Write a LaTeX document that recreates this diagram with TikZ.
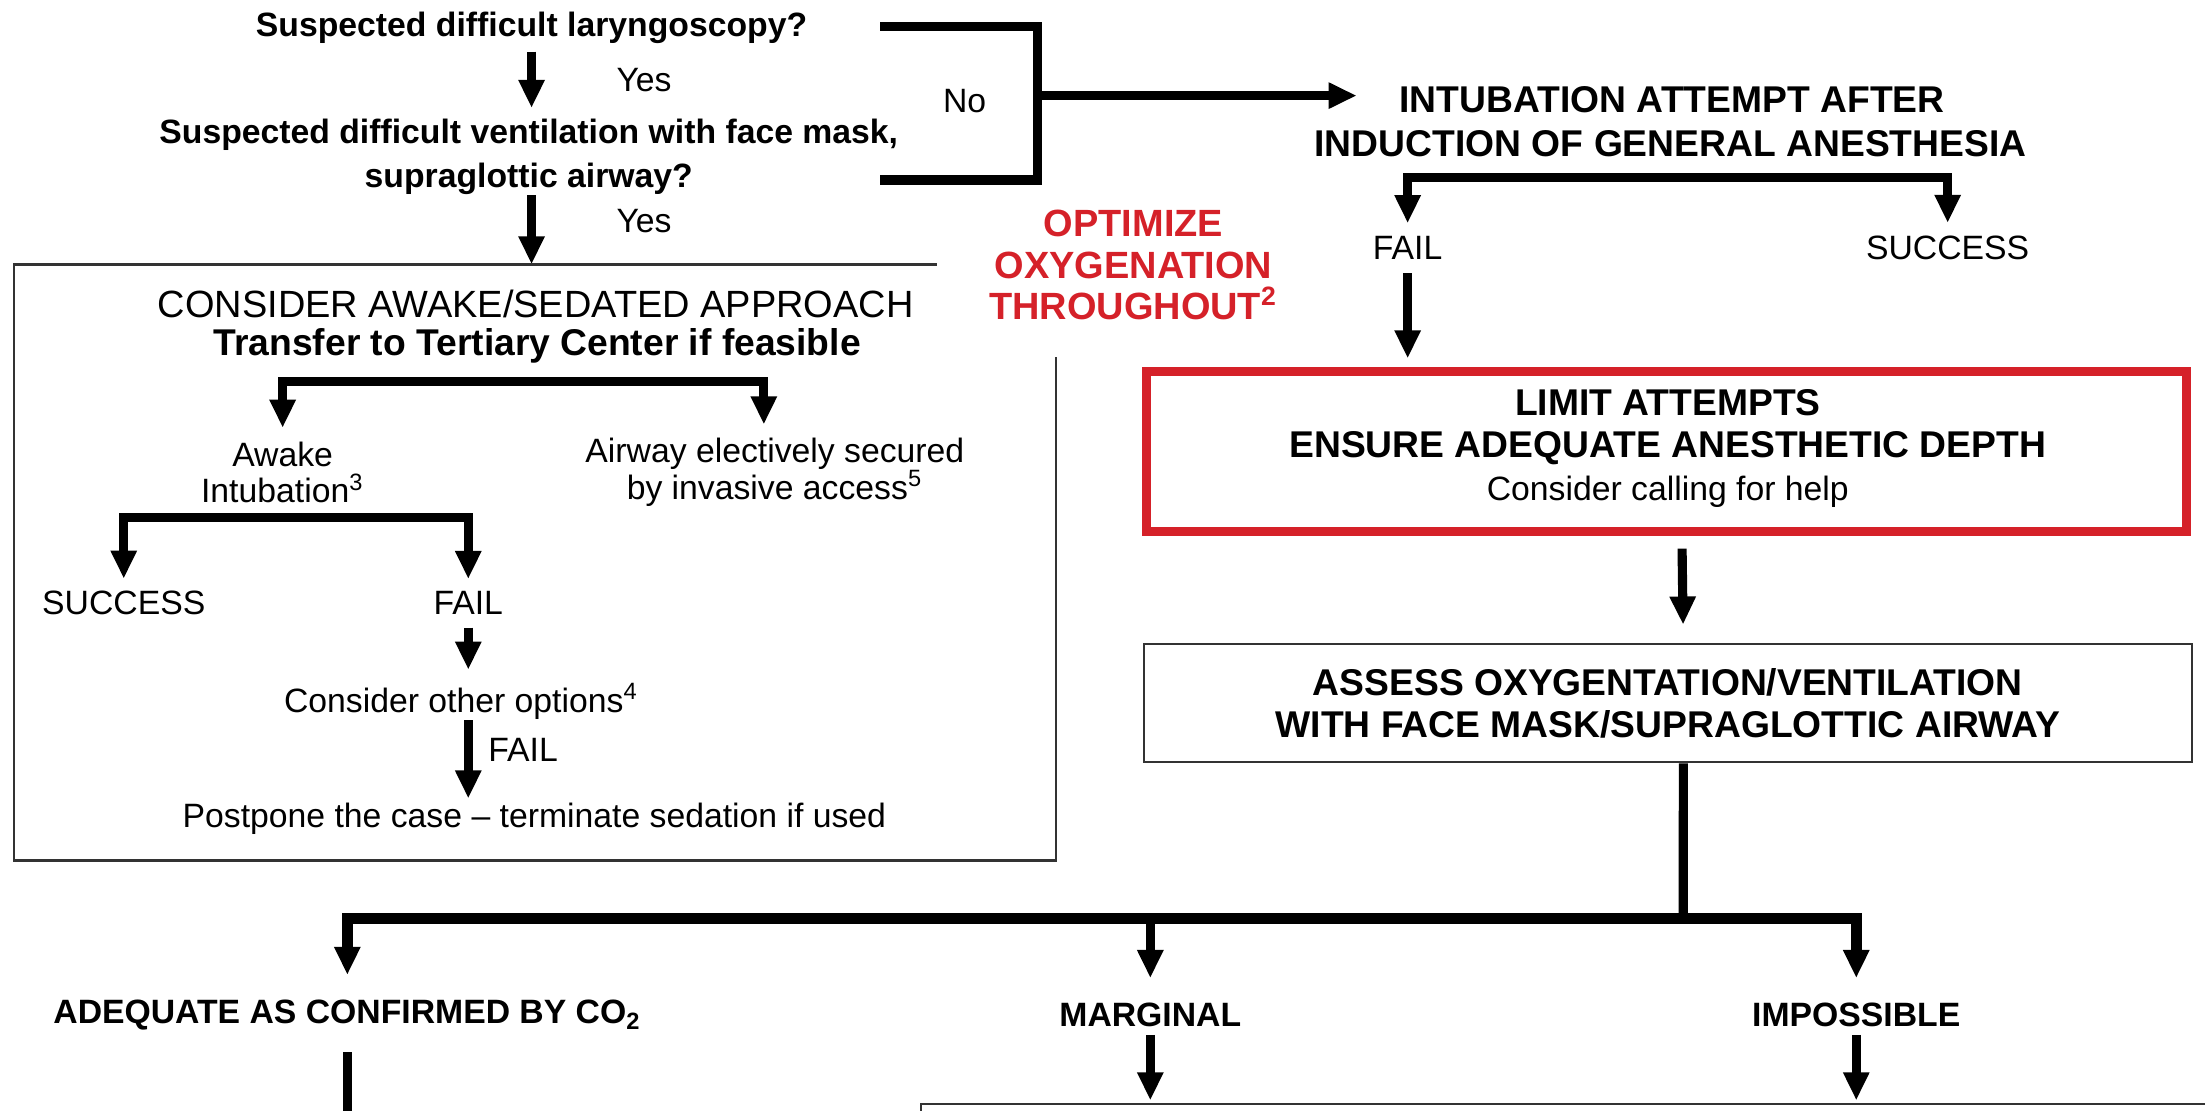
\documentclass[tikz,border=0pt]{standalone}
\usepackage{fontspec}
\setmainfont{Liberation Sans}
\usetikzlibrary{arrows.meta}

\definecolor{optred}{RGB}{213,33,41}

\begin{document}
\begin{tikzpicture}[x=0.140625mm,y=-0.140625mm,
  every node/.style={inner sep=0pt,align=center},
  txt/.style={font=\fontsize{9.6}{10.4}\selectfont},
  btxt/.style={font=\bfseries\fontsize{9.6}{12.4}\selectfont},
  head/.style={font=\fontsize{10.8}{12}\selectfont},
  bhead/.style={font=\bfseries\fontsize{10.6}{12}\selectfont},
  frame/.style={draw=black!80,line width=0.7pt},
  bar/.style={line width=2.6pt},
  go/.style={bar,-{Triangle[length=8pt,width=7pt]}},
  fork/.style={bar,{Triangle[length=8pt,width=7pt]}-{Triangle[length=8pt,width=7pt]}}]
\useasboundingbox (0,0) rectangle (1568,790);
\clip (0,0) rectangle (1568,790);

% screening questions
\node[btxt] (q1) at (378,20) {Suspected difficult laryngoscopy?};
\node[btxt] (q2) at (376,111.5) {Suspected difficult ventilation with face mask,\\supraglottic airway?};
\node[txt] (yes1) at (458,57) {Yes};
\node[txt] (yes2) at (458,157) {Yes};
\coordinate (lbNW) at (10,188);
\draw[go,shorten <=2pt,shorten >=3pt] (q1.south) -- (q1.south |- q2.north);
\draw[go] (q1.south |- q2.south) -- (q1.south |- lbNW);

% the No bracket
\coordinate (brkT) at (626,19);
\coordinate (brkB) at (626,128);
\coordinate (brk) at (738,68);
\node[txt] (no) at (686,72) {No};
\draw[bar] (brkT) -| (brk) |- (brkB);

% awake / sedated box
\draw[frame] (666,188) -- (lbNW) -- (10,612) -- (751,612) -- (751,254);
\node[head] (cons) at (381,216) {CONSIDER AWAKE/SEDATED APPROACH};
\node[bhead] (transf) at (382,246) {Transfer to Tertiary Center if feasible};
\node[txt] (awake) at (201,336) {Awake\\Intubation\textsuperscript{3}};
\node[txt] (elect) at (551,336) {Airway electively secured\\by invasive access\textsuperscript{5}};
\coordinate (f1) at (378,271);
\draw[fork,shorten <=3.8pt,shorten >=3.8pt] (awake.north) |- (f1) -| ([xshift=-1.1mm]elect.north);
\node[txt] (succ1) at (88,429) {SUCCESS};
\node[txt] (fail1) at (333,429) {FAIL};
\coordinate (f2) at (210,368);
\draw[fork,shorten <=3.4pt,shorten >=3.4pt] (succ1.north) |- (f2) -| (fail1.north);
\node[txt] (other) at (328,499) {Consider other options\textsuperscript{4}};
\draw[go,shorten <=3.4pt,shorten >=3.8pt] (fail1.south) -- (fail1.south |- other.north);
\node[txt] (postp) at (380,582.5) {Postpone the case -- terminate sedation if used};
\draw[go,shorten >=1.2pt] (fail1.south |- other.south) -- (fail1.south |- postp.north);
\node[txt] (fail3) at (372,533) {FAIL};

% red reminder
\node[font=\bfseries\fontsize{10.8}{11.8}\selectfont,text=optred] (opt) at (806,188.5)
  {OPTIMIZE\\OXYGENATION\\THROUGHOUT\textsuperscript{2}};

% induction branch
\node[bhead] (intubA) at (1189,71) {INTUBATION ATTEMPT AFTER};
\node[bhead] (intubB) at (1188,102) {INDUCTION OF GENERAL ANESTHESIA};
\draw[go,shorten >=12pt] (brk) -- (intubA.west |- brk);
\node[txt] (fail2) at (1001,176.5) {FAIL};
\node[txt] (succ2) at (1385,176.5) {SUCCESS};
\coordinate (f3) at (1190,126);
\draw[fork,shorten <=3.6pt,shorten >=3.6pt] (fail2.north) |- (f3) -| (succ2.north);
\node[draw=optred,line width=2.6pt,minimum width=104mm,minimum height=16mm] (limit) at (1185,321) {};
\node[bhead] (limittxt) at (1186,304) {LIMIT ATTEMPTS\\ENSURE ADEQUATE ANESTHETIC DEPTH};
\node[txt] (helptxt) at (1186,350) {Consider calling for help};
\draw[go,shorten <=3.6pt,shorten >=2.4pt] (fail2.south) -- (fail2.south |- limit.north);
\node[frame,bhead,minimum width=104.8mm,minimum height=11.8mm] (assess) at (1186,500)
  {ASSESS OXYGENTATION/VENTILATION\\WITH FACE MASK/SUPRAGLOTTIC AIRWAY};
\draw[go,shorten <=3.6pt,shorten >=5.2pt] ([xshift=1.55mm]limit.south) -- ([xshift=1.55mm]assess.north);

% outcome of mask ventilation
\node[btxt] (adeq) at (247,722) {ADEQUATE AS CONFIRMED BY CO\textsubscript{2}};
\node[btxt] (marg) at (818,722) {MARGINAL};
\node[btxt] (imposs) at (1320,722) {IMPOSSIBLE};
\coordinate (f4) at (1197,653);
\draw[bar] ([xshift=1.55mm]assess.south) -- (f4);
\draw[fork,line width=3.2pt,shorten <=7pt,shorten >=7pt] (adeq.north) |- (f4) -| (imposs.north);
\draw[go,shorten >=7pt] (f4 -| marg.north) -- (marg.north);
\coordinate (bbox) at (655,785);
\coordinate (adeqEnd) at (247,800);
\draw[bar,shorten <=6pt] (adeq.south) -- (adeqEnd);
\draw[go,shorten <=2pt,shorten >=1pt] (marg.south) -- (marg.south |- bbox);
\draw[go,shorten <=2pt,shorten >=1pt] (imposs.south) -- (imposs.south |- bbox);
\draw[frame] (1600,785) -- (bbox) -- (655,820);
\end{tikzpicture}
\end{document}
